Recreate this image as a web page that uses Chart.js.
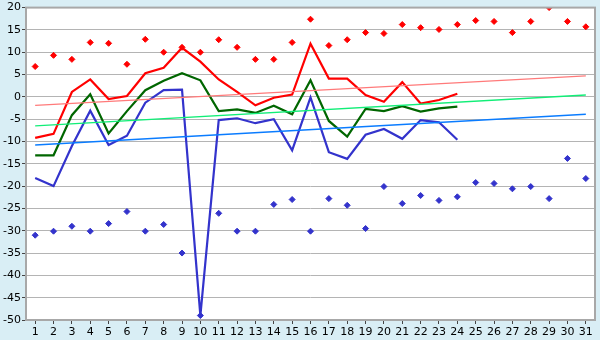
<!DOCTYPE html>
<html>
<head>
<meta charset="utf-8">
<script src="https://cdn.jsdelivr.net/npm/chart.js@4"></script>
<style>
  html, body { margin: 0; padding: 0; background: #d9eef5; }
  #wrap { width: 600px; height: 340px; }
</style>
</head>
<body>
<div id="wrap"><canvas id="tempChart"></canvas></div>
<script>
const days = ['1','2','3','4','5','6','7','8','9','10','11','12','13','14','15','16','17','18','19','20','21','22','23','24','25','26','27','28','29','30','31'];

// daily values (only up to day 24)
const maxTemp = [-9.2, -8.3, 1.1, 3.9, -0.5, 0.2, 5.3, 6.5, 11.0, 7.9, 3.9, 1.1, -1.9, -0.2, 0.5, 11.9, 4.1, 4.1, 0.4, -1.1, 3.3, -1.5, -0.7, 0.7];
const avgTemp = [-13.1, -13.1, -4.1, 0.6, -8.2, -3.2, 1.5, 3.6, 5.3, 3.7, -3.2, -2.8, -3.6, -2.0, -3.9, 3.7, -5.4, -8.9, -2.7, -3.2, -2.1, -3.3, -2.6, -2.2];
const minTemp = [-18.2, -20.0, -11.0, -3.1, -10.8, -8.7, -1.3, 1.5, 1.6, -49.0, -5.2, -4.8, -5.9, -5.0, -12.0, -0.1, -12.4, -13.9, -8.5, -7.2, -9.4, -5.2, -5.7, -9.6];

// records for each day
const recordMax = [6.8, 9.3, 8.4, 12.2, 12.0, 7.3, 12.9, 10.0, 11.1, 10.0, 12.8, 11.1, 8.4, 8.4, 12.2, 17.4, 11.5, 12.8, 14.4, 14.2, 16.2, 15.5, 15.1, 16.2, 17.1, 16.9, 14.4, 16.9, 20.0, 16.9, 15.7];
const recordMin = [-31.0, -30.1, -29.0, -30.1, -28.4, -25.7, -30.1, -28.6, -35.0, -49.0, -26.1, -30.1, -30.1, -24.1, -23.0, -30.1, -22.8, -24.3, -29.5, -20.1, -23.9, -22.1, -23.2, -22.4, -19.2, -19.4, -20.6, -20.1, -22.8, -13.8, -18.3];

// trend lines: value at day 1 and day 31
const trendMax = [-1.9, 4.7];
const trendAvg = [-6.5, 0.4];
const trendMin = [-10.8, -3.9];

const yTicks = { min: -50, max: 20, step: 5 };

function endsOnly(pair) {
  const arr = days.map(() => null);
  arr[0] = pair[0];
  arr[days.length - 1] = pair[1];
  return arr;
}

const plotBg = {
  id: 'plotBg',
  beforeDraw(chart) {
    const { ctx, chartArea: a } = chart;
    ctx.save();
    ctx.fillStyle = '#d9eef5';
    ctx.fillRect(0, 0, chart.width, chart.height);
    ctx.fillStyle = '#ffffff';
    ctx.fillRect(a.left, a.top, a.right - a.left, a.bottom - a.top);
    ctx.restore();
  },
  afterDatasetsDraw(chart) {
    const { ctx, chartArea: a } = chart;
    ctx.save();
    ctx.strokeStyle = '#a8a8a8';
    ctx.lineWidth = 2;
    ctx.strokeRect(a.left, a.top, a.right - a.left, a.bottom - a.top);
    ctx.restore();
  }
};

const lineDs = (data, color, width) => ({
  data, borderColor: color, backgroundColor: color, borderWidth: width,
  pointRadius: 0, tension: 0, fill: false
});
const trendDs = (pair, color) => ({
  data: endsOnly(pair), borderColor: color, borderWidth: 1.4,
  pointRadius: 0, spanGaps: true, fill: false
});
const dotDs = (data, color) => ({
  data, showLine: false, pointStyle: 'rectRot', pointRadius: 3,
  pointBackgroundColor: color, pointBorderColor: color, pointBorderWidth: 1
});

new Chart(document.getElementById('tempChart'), {
  type: 'line',
  data: {
    labels: days,
    datasets: [
      trendDs(trendMin, '#0a7cff'),
      trendDs(trendAvg, '#11ee77'),
      trendDs(trendMax, '#ff7a7a'),
      lineDs(minTemp, '#3333cc', 2.2),
      lineDs(avgTemp, '#006600', 2.2),
      lineDs(maxTemp, '#ff0000', 2.2),
      dotDs(recordMax, '#ff0000'),
      dotDs(recordMin, '#3333cc')
    ]
  },
  options: {
    responsive: true,
    maintainAspectRatio: false,
    animation: false,
    layout: { padding: { top: 4, right: 5, left: 0, bottom: 0 } },
    plugins: { legend: { display: false }, tooltip: { enabled: false } },
    scales: {
      x: {
        offset: true,
        afterFit(s) { s.height = 20; },
        grid: { drawOnChartArea: false, drawTicks: true, tickLength: 4, color: '#444', offset: false },
        border: { display: false },
        ticks: { color: '#000', padding: 2, maxRotation: 0, autoSkip: false, font: { family: 'DejaVu Sans', size: 11 } }
      },
      y: {
        min: yTicks.min,
        max: yTicks.max,
        afterFit(s) { s.width = 26; },
        grid: { color: '#b4b4b4', lineWidth: 1, drawTicks: true, tickLength: 4, tickColor: '#444' },
        border: { display: false },
        ticks: { stepSize: yTicks.step, color: '#000', padding: 1, font: { family: 'DejaVu Sans', size: 11 } }
      }
    }
  },
  plugins: [plotBg]
});
</script>
</body>
</html>
